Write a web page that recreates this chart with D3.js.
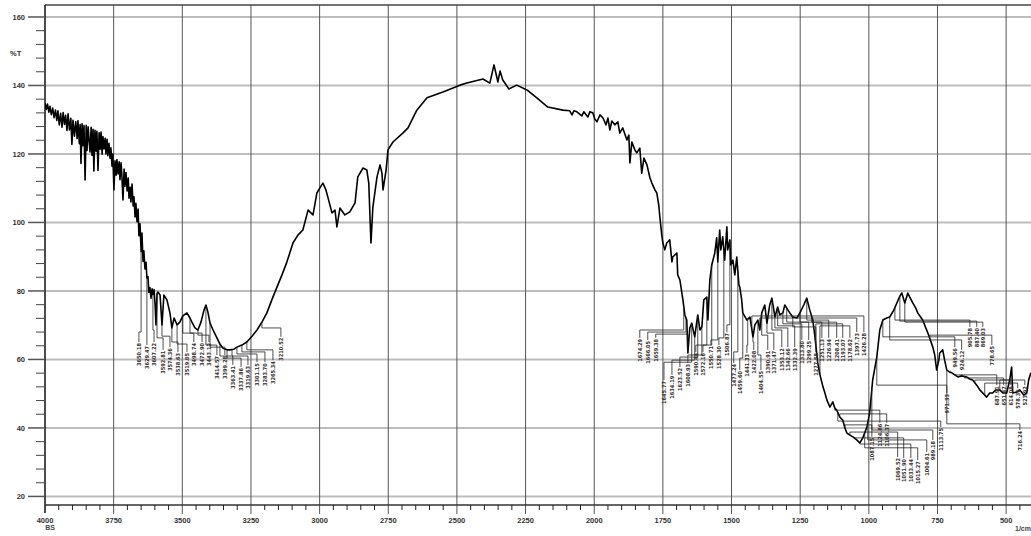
<!DOCTYPE html>
<html><head><meta charset="utf-8">
<script src="https://cdn.jsdelivr.net/npm/d3@7"></script>
<style>html,body{margin:0;padding:0;background:#fff;}svg{display:block;}</style>
</head><body>
<svg id="c" width="1031" height="536"></svg>
<script>
// ---- data ----
const spectrumWn = [4000,3995,3991,3986,3982,3977,3972,3967,3962,3957,3953,3948,3943,3938,3934,3929,3925,3920,3916,3911,3906,3902,3898,3893,3888,3883,3880,3875,3872,3869,3865,3862,3858,3854,3850,3847,3843,3839,3836,3832,3829,3825,3822,3818,3814,3811,3807,3803,3799,3796,3792,3789,3785,3781,3778,3774,3771,3767,3763,3760,3756,3753,3749,3745,3741,3738,3734,3730,3727,3723,3720,3716,3712,3709,3705,3701,3697,3694,3690,3687,3683,3679,3676,3672,3669,3665,3661,3658,3654,3650,3647,3643,3640,3636,3632,3629,3625,3622,3618,3614,3610,3607,3603,3599,3596,3592,3589,3581,3574,3567,3556,3545,3538,3530,3519,3509,3498,3483,3472,3465,3454,3443,3432,3421,3414,3407,3399,3388,3374,3363,3352,3337,3327,3312,3301,3283,3265,3246,3228,3210,3192,3174,3155,3137,3119,3097,3079,3061,3042,3024,3010,2999,2988,2977,2970,2955,2944,2937,2926,2908,2890,2871,2861,2842,2828,2821,2813,2806,2791,2780,2773,2769,2758,2751,2733,2697,2678,2646,2609,2551,2489,2464,2405,2380,2365,2354,2351,2343,2333,2311,2282,2245,2209,2169,2114,2089,2081,2074,2063,2045,2038,2023,2016,2005,1998,1990,1979,1968,1957,1950,1943,1936,1925,1914,1907,1896,1881,1874,1870,1863,1852,1845,1834,1827,1819,1808,1797,1790,1779,1772,1765,1761,1754,1750,1743,1736,1725,1717,1714,1699,1696,1688,1677,1670,1663,1659,1652,1645,1634,1623,1615,1608,1601,1590,1586,1579,1572,1561,1554,1550,1543,1539,1532,1525,1517,1514,1506,1503,1495,1488,1481,1473,1470,1463,1459,1444,1433,1422,1415,1404,1397,1390,1379,1371,1361,1353,1346,1342,1332,1324,1313,1306,1299,1288,1277,1262,1251,1237,1226,1215,1204,1197,1186,1178,1167,1160,1153,1142,1131,1124,1117,1106,1095,1087,1080,1069,1058,1044,1033,1022,1007,997,986,971,960,949,935,924,909,898,887,880,869,858,851,840,829,822,804,785,767,760,753,745,742,731,724,716,705,698,687,676,662,644,633,622,607,596,585,571,560,549,538,523,512,498,487,480,476,461,450,436,425,418,410];
const spectrumT = [134.9,133.0,134.6,132.2,133.9,131.5,133.4,130.6,132.8,129.8,132.6,128.5,131.9,127.8,132.1,128.6,131.3,126.9,131.7,127.0,130.4,122.8,129.8,125.2,129.4,124.5,129.7,123.0,128.6,117.2,128.8,122.4,128.3,112.4,128.4,121.0,127.9,123.5,120.6,127.8,119.6,127.2,115.0,126.9,120.8,126.6,115.2,126.2,121.4,126.4,119.9,125.1,121.5,124.6,120.0,124.3,119.5,123.1,118.7,121.8,116.4,120.0,109.5,118.0,113.8,118.4,114.2,117.7,112.5,117.4,113.6,106.6,115.6,110.5,114.6,109.2,113.0,107.1,110.3,106.0,111.2,104.8,107.5,101.6,105.6,100.2,103.9,96.1,99.6,91.5,96.9,88.6,91.7,86.4,88.4,83.8,84.2,79.6,81.0,77.9,80.6,79.0,80.4,76.0,70.1,79.2,79.7,78.8,70.1,78.8,77.4,73.6,69.2,72.1,70.1,70.9,72.7,73.6,72.1,70.9,69.2,68.6,70.9,74.4,75.9,73.9,70.6,68.6,66.3,64.5,63.3,62.8,62.8,63.0,63.6,64.2,65.1,66.8,68.6,70.9,73.6,77.4,81.2,84.7,88.5,94.0,96.3,97.8,103.6,102.2,108.6,110.1,111.5,109.5,107.4,102.8,103.6,98.7,104.2,102.2,103.1,105.7,113.3,115.9,115.3,111.5,94.0,104.5,113.3,116.8,114.4,109.5,115.3,121.2,123.5,126.1,127.6,132.8,136.4,138.1,140.1,140.7,141.9,140.7,146.0,142.2,141.0,144.2,141.6,139.0,140.1,138.7,136.4,133.7,132.8,132.6,131.4,132.6,132.3,131.1,132.3,130.8,132.3,132.0,130.2,129.4,131.4,130.5,128.5,130.5,127.0,129.6,128.5,129.4,126.1,127.6,124.1,125.5,117.4,123.5,121.2,120.3,121.7,114.4,118.8,116.8,113.0,111.5,109.5,108.6,105.1,101.6,96.3,94.0,92.0,94.0,94.9,88.5,89.9,91.1,84.7,83.2,77.4,73.0,71.5,61.9,69.2,70.6,66.6,73.0,68.6,69.5,77.4,78.2,71.5,83.2,87.6,91.1,95.5,88.5,97.8,92.0,95.8,89.0,98.7,92.0,94.9,87.6,89.0,84.7,89.9,81.7,81.2,77.4,73.6,71.5,72.4,66.6,70.1,71.5,68.6,73.6,75.9,70.6,75.9,77.9,74.4,72.4,75.3,73.0,73.6,75.9,75.0,73.6,72.4,72.1,73.6,75.9,77.9,74.4,71.5,67.1,59.0,55.5,52.0,50.2,48.2,46.1,47.6,45.8,45.2,43.2,42.3,40.0,38.5,37.9,37.4,36.5,35.6,37.1,40.3,44.4,54.0,60.7,68.6,71.5,72.1,72.4,74.4,76.5,78.5,79.4,76.5,79.4,78.2,76.5,75.0,73.6,71.5,67.7,63.6,61.3,56.9,59.8,61.9,62.8,59.8,56.9,56.3,56.1,55.5,54.9,55.2,54.9,54.3,54.0,52.5,51.1,50.2,49.0,50.2,50.2,51.1,51.1,50.2,50.2,54.0,57.8,50.2,50.5,51.1,49.6,50.2,54.0,56.1];

// peak annotations: peak position, leader elbow level, label position, label text
const peakWn = [3650,3629,3607,3592,3574,3538,3519,3498,3472,3443,3414,3399,3363,3337,3319,3301,3283,3265,3210,
  1674,1666,1659,1645,1634,1623,1608,1590,1572,1550,1528,1506,1477,1459,1441,1422,1404,1390,1371,1353,1342,1332,1313,1299,1277,1251,1226,1208,1193,1178,1397,1426,
  1124,1106,1087,1069,1051,1033,1015,1004,989,1113,971,
  949,924,905,887,869,778,716,687,651,614,578,523];
const peakElbowT = [68.0,68.0,68.6,66.3,66.8,65.1,64.5,67.7,67.7,67.1,64.2,63.6,61.0,60.4,61.0,61.6,62.2,62.8,69.2,
  68.6,68.0,67.4,59.2,59.8,60.7,61.3,64.2,64.2,65.7,66.3,70.1,62.2,60.4,64.2,65.1,61.3,67.1,67.7,68.6,69.2,69.8,70.4,70.9,69.5,70.9,71.5,70.9,70.4,69.8,72.1,72.7,
  45.2,44.1,40.9,38.8,37.1,35.3,34.2,36.5,39.4,42.0,52.5,
  66.6,65.7,71.5,71.2,70.9,67.1,41.2,55.5,54.6,54.0,53.1,54.0];
const labelWn = [3658,3629,3603,3570,3545,3516,3483,3458,3428,3403,3374,3345,3316,3286,3261,3228,3199,3170,3141,
  1834,1805,1776,1746,1717,1688,1659,1630,1604,1575,1546,1517,1492,1470,1444,1419,1393,1368,1346,1317,1295,1270,1244,1219,1193,1171,1146,1117,1095,1069,1044,1018,
  960,935,989,895,873,847,822,789,767,738,716,
  687,662,632,607,585,552,450,534,509,483,458,432];
const labelT = [65.1,64.2,65.1,62.8,63.6,62.2,62.2,65.1,65.1,65.1,61.3,61.3,58.4,57.8,58.4,59.2,59.2,59.8,66.6,
  66.3,65.7,66.3,54.0,55.5,57.8,59.0,62.2,62.2,64.2,64.2,68.0,59.0,56.9,61.9,62.8,56.9,62.8,62.8,63.6,63.6,63.6,65.7,65.7,62.2,66.3,66.3,66.3,66.3,66.3,68.0,68.0,
  41.5,41.5,37.4,31.5,31.2,31.2,30.6,33.0,36.5,40.3,50.2,
  63.6,62.8,69.5,69.5,69.5,64.2,39.4,52.5,52.5,52.5,51.6,52.5];
const peakLabels = ["3650.18","3629.47","3607.22","3592.81","3574.36","3538.63","3519.05","3498.74","3472.90","3443.12","3414.57","3399.28","3363.41","3337.86","3319.63","3301.15","3283.70","3265.34","3210.52",
  "1674.29","1666.05","1659.38","1645.77","1634.19","1623.52","1608.93","1590.44","1572.16","1550.71","1528.30","1506.87","1477.24","1459.60","1441.33","1422.08","1404.55","1390.91","1371.47","1353.12","1342.66","1332.39","1313.80","1299.25","1277.58","1251.13","1226.94","1208.41","1193.07","1178.62","1397.73","1426.28",
  "1124.86","1106.37","1087.15","1069.52","1051.90","1033.44","1015.27","1004.61","989.18","1113.75","971.33",
  "949.56","924.12","905.78","887.40","869.03","778.65","716.24","687.91","651.47","614.08","578.36","523.92"];

const yMajorTicks = [20,40,60,80,100,120,140,160];
const xMajorTicks = [4000,3750,3500,3250,3000,2750,2500,2250,2000,1750,1500,1250,1000,750,500];
const yAxisTitle = "%T";
const xAxisUnit = "1/cm";
const cornerNote = "BS";

// ---- drawing ----
const svg = d3.select("#c");
const L = 45, R = 1033.6, T0 = 5, B0 = 505;
const x = d3.scaleLinear().domain([4000, 400]).range([L, R]);
const y = d3.scaleLinear().domain([17.5, 163.5]).range([B0, T0]);
const W = 1031;

svg.append("clipPath").attr("id","pc").append("rect")
  .attr("x", L).attr("y", T0).attr("width", W - L).attr("height", B0 - T0);

// horizontal gridlines
svg.append("g").selectAll("line").data(yMajorTicks).join("line")
  .attr("x1", L).attr("x2", W).attr("y1", d => y(d)).attr("y2", d => y(d))
  .attr("stroke", "#bdbdbd").attr("stroke-width", 2);
// vertical gridlines
svg.append("g").selectAll("line").data(xMajorTicks.filter(d => d !== 4000)).join("line")
  .attr("x1", d => x(d)).attr("x2", d => x(d)).attr("y1", T0).attr("y2", B0 + 9)
  .attr("stroke", "#555").attr("stroke-width", 1);

// frame
svg.append("line").attr("x1", L).attr("x2", W).attr("y1", T0).attr("y2", T0).attr("stroke", "#444").attr("stroke-width", 1.5);
svg.append("line").attr("x1", L).attr("x2", L).attr("y1", T0).attr("y2", B0 + 8).attr("stroke", "#111").attr("stroke-width", 1.5);
svg.append("line").attr("x1", L).attr("x2", W).attr("y1", B0).attr("y2", B0).attr("stroke", "#333").attr("stroke-width", 1.5);

// y axis ticks
const yMinor = d3.range(20, 161, 4).filter(v => v % 20 !== 0);
svg.append("g").selectAll("line").data(yMinor).join("line")
  .attr("x1", L - 9).attr("x2", L).attr("y1", d => y(d)).attr("y2", d => y(d))
  .attr("stroke", "#444").attr("stroke-width", 1);
svg.append("g").selectAll("line").data(yMajorTicks).join("line")
  .attr("x1", L - 17).attr("x2", L).attr("y1", d => y(d)).attr("y2", d => y(d))
  .attr("stroke", "#555").attr("stroke-width", 1.5);
svg.append("g").selectAll("text").data(yMajorTicks).join("text")
  .attr("x", 25).attr("y", d => y(d)).attr("dy", "0.35em").attr("text-anchor", "end")
  .attr("font-family", "Liberation Sans, Arial, sans-serif").attr("font-size", 7.5).attr("font-weight", "bold")
  .attr("fill", "#333").text(d => d);
svg.append("text").attr("x", 10).attr("y", y(149.5)).attr("dy", "0.35em")
  .attr("font-family", "Liberation Sans, Arial, sans-serif").attr("font-size", 7.5).attr("font-weight", "bold")
  .attr("fill", "#333").text(yAxisTitle);

// x axis ticks
const xMinor = d3.range(450, 4000, 50).filter(v => v % 250 !== 0);
svg.append("g").selectAll("line").data(xMinor).join("line")
  .attr("x1", d => x(d)).attr("x2", d => x(d)).attr("y1", B0).attr("y2", B0 + 5)
  .attr("stroke", "#222").attr("stroke-width", 1);
svg.append("g").selectAll("text").data(xMajorTicks).join("text")
  .attr("x", d => x(d)).attr("y", 520).attr("dy", "0.35em").attr("text-anchor", "middle")
  .attr("font-family", "Liberation Sans, Arial, sans-serif").attr("font-size", 7.5).attr("font-weight", "bold")
  .attr("fill", "#333").text(d => d);
svg.append("text").attr("x", 50).attr("y", 528).attr("dy", "0.35em").attr("text-anchor", "middle")
  .attr("font-family", "Liberation Sans, Arial, sans-serif").attr("font-size", 7).attr("font-weight", "bold")
  .attr("fill", "#444").text(cornerNote);
svg.append("text").attr("x", 1031).attr("y", 529).attr("dy", "0.35em").attr("text-anchor", "end")
  .attr("font-family", "Liberation Sans, Arial, sans-serif").attr("font-size", 7).attr("font-weight", "bold")
  .attr("fill", "#444").text(xAxisUnit);

const plot = svg.append("g").attr("clip-path", "url(#pc)");

// spectrum
const pts = spectrumWn.map((w, i) => [w, spectrumT[i]]);
const line = d3.line().x(d => x(d[0])).y(d => y(d[1]));
plot.append("path").attr("d", line(pts)).attr("fill", "none")
  .attr("stroke", "#000").attr("stroke-width", 1.6).attr("stroke-linejoin", "round");

// peak leaders and labels
const interpT = w => {
  const idx = spectrumWn.findIndex(v => v <= w);
  if (idx <= 0) return spectrumT[0];
  const w0 = spectrumWn[idx - 1], w1 = spectrumWn[idx];
  const t = (w0 - w) / (w0 - w1);
  return spectrumT[idx - 1] + t * (spectrumT[idx] - spectrumT[idx - 1]);
};
const peaks = peakWn.map((w, i) => ({w, t: interpT(w), e: peakElbowT[i], lw: labelWn[i], lt: labelT[i], s: peakLabels[i]}));
plot.append("g").selectAll("path").data(peaks).join("path")
  .attr("d", d => `M${x(d.w)},${y(d.t)}V${y(d.e)}H${x(d.lw)}V${y(d.lt)}`)
  .attr("fill", "none").attr("stroke", "#222").attr("stroke-width", 0.8);
plot.append("g").selectAll("text").data(peaks).join("text")
  .attr("transform", d => `translate(${x(d.lw)},${y(d.lt) + 1}) rotate(-90)`)
  .attr("text-anchor", "end").attr("dy", "0.35em")
  .attr("font-family", "Liberation Sans Narrow, DejaVu Sans Condensed, Arial, sans-serif")
  .attr("font-size", 5.6).attr("font-weight", "bold").attr("fill", "#3b3030")
  .text(d => d.s);
</script>
</body></html>
